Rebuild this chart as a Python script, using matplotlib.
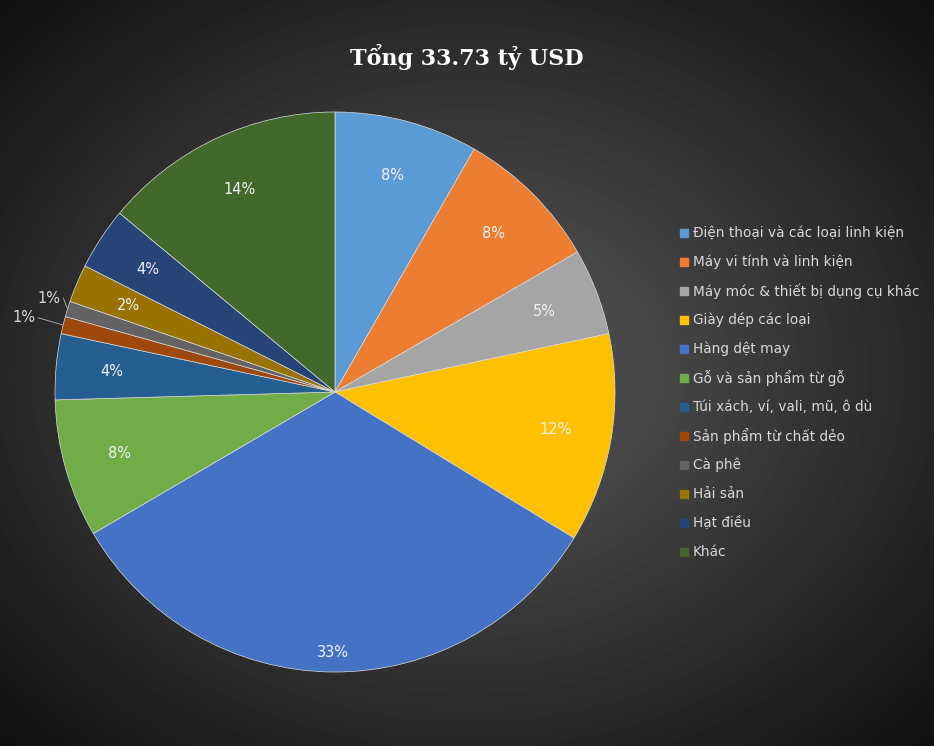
import numpy as np
import matplotlib
matplotlib.use("Agg")
import matplotlib.pyplot as plt
from matplotlib.patches import Rectangle

labels = ["Điện thoại và các loại linh kiện", "Máy vi tính và linh kiện",
          "Máy móc & thiết bị dụng cụ khác", "Giày dép các loại", "Hàng dệt may",
          "Gỗ và sản phẩm từ gỗ", "Túi xách, ví, vali, mũ, ô dù",
          "Sản phẩm từ chất dẻo", "Cà phê", "Hải sản", "Hạt điều", "Khác"]
values = [8.3, 8.4, 5.0, 12.1, 32.9, 8.0, 3.8, 1.0, 0.9, 2.2, 3.6, 14.0]
pct_text = ["8%", "8%", "5%", "12%", "33%", "8%", "4%", "1%", "1%", "2%", "4%", "14%"]
colors = ["#5B9BD5", "#ED7D31", "#A5A5A5", "#FFC000", "#4472C4", "#70AD47",
          "#255E91", "#9E480E", "#636363", "#997300", "#264478", "#43682B"]

W, H = 934, 746
fig = plt.figure(figsize=(W / 100, H / 100), dpi=100)

# dark radial background
bg = fig.add_axes([0, 0, 1, 1])
yy, xx = np.mgrid[0:H, 0:W]
r = np.hypot((xx - W / 2) / W, (yy - H / 2) / H)
bg.imshow(0.36 - 0.42 * r, cmap="gray", vmin=0, vmax=1, aspect="auto")
bg.axis("off")

fig.text(0.5, 1 - 57 / H, "Tổng 33.73 tỷ USD", ha="center", va="center",
         color="white", fontsize=16, fontweight="bold", family="DejaVu Serif")

cx, cy, R = 335, 392, 280
ax = fig.add_axes([(cx - R) / W, (H - cy - R) / H, 2 * R / W, 2 * R / H])
wedges, _ = ax.pie(values, colors=colors, startangle=90, counterclock=False,
                   radius=1.0, frame=False,
                   wedgeprops=dict(edgecolor="#dddddd", linewidth=0.5))
ax.set_xlim(-1, 1)
ax.set_ylim(-1, 1)
ax.set_aspect("equal")
ax.axis("off")

for i, w in enumerate(wedges):
    ang = np.deg2rad((w.theta1 + w.theta2) / 2)
    if values[i] < 1.5:
        x0, y0 = np.cos(ang), np.sin(ang)
        if i == 7:
            x1, y1 = -1.06, 0.265
        else:
            x1, y1 = -0.97, 0.335
        ax.plot([x0, x1], [y0, y1], color="#a6a6a6", lw=0.7, clip_on=False)
        ax.text(x1 - 0.01, y1, pct_text[i], ha="right", va="center",
                color="#d9d9d9", fontsize=10.5, clip_on=False)
    else:
        rr = 0.8 if values[i] < 20 else 0.93
        ax.text(rr * np.cos(ang), rr * np.sin(ang), pct_text[i], ha="center",
                va="center", color="#f2f2f2", fontsize=10.5)

# legend
for i, lab in enumerate(labels):
    y = 233 + i * 29.0
    fig.patches.append(Rectangle((680 / W, 1 - (y + 4) / H), 8 / W, 8 / H,
                                 transform=fig.transFigure, color=colors[i]))
    fig.text(693 / W, 1 - y / H, lab, ha="left", va="center",
             color="#d9d9d9", fontsize=9.8)

fig.savefig("out.png", dpi=100)
